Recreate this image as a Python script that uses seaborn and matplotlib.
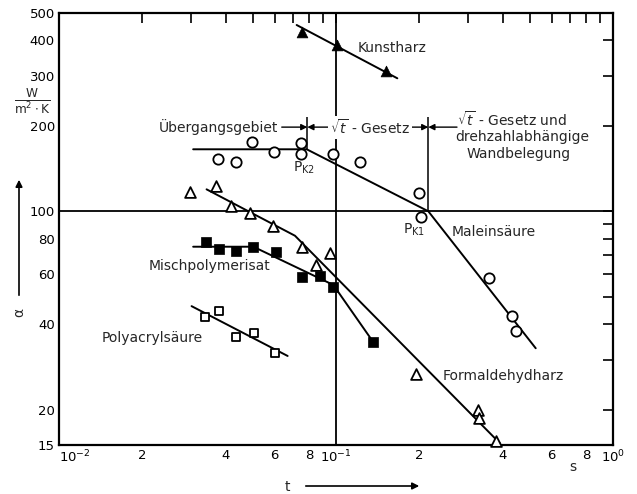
import matplotlib
matplotlib.use("Agg")
import matplotlib.pyplot as plt
import seaborn as sns
import numpy as np
import pandas as pd
from matplotlib.ticker import FixedLocator, NullFormatter

# ---------------- data ----------------
male_t = [0.0376, 0.0434, 0.0499, 0.0597, 0.0746, 0.0746, 0.0973, 0.1221, 0.200, 0.2022, 0.3567, 0.4307, 0.4454]
male_a = [152.4, 149.5, 175.8, 162.0, 174.4, 158.7, 158.7, 149.5, 116.3, 95.6, 58.0, 42.8, 37.8]
male_line_t = [0.0305, 0.0784, 0.2154, 0.526]
male_line_a = [165.4, 165.4, 100.0, 32.9]

form_t = [0.0297, 0.0368, 0.0419, 0.0490, 0.0594, 0.0752, 0.0954, 0.0845, 0.1945, 0.3248, 0.3275, 0.378]
form_a = [116.7, 122.4, 104.2, 98.8, 88.9, 74.8, 71.1, 64.5, 26.8, 19.9, 18.6, 15.5]
form_line_t = [0.0341, 0.0711, 0.3909]
form_line_a = [119.5, 82.0, 15.2]

misch_t = [0.0339, 0.0379, 0.0434, 0.0503, 0.0606, 0.0754, 0.0873, 0.0975, 0.1358]
misch_a = [78.1, 73.4, 72.4, 75.0, 72.0, 58.6, 59.3, 54.2, 34.7]
misch_line_t = [0.0305, 0.0503, 0.0978, 0.1346]
misch_line_a = [75.0, 75.0, 55.0, 35.2]

poly_t = [0.0337, 0.0379, 0.0436, 0.0506, 0.0602]
poly_a = [42.3, 44.6, 36.1, 37.2, 31.6]
poly_line_t = [0.0301, 0.0669]
poly_line_a = [46.3, 30.9]

kunst_t = [0.0752, 0.1006, 0.1515]
kunst_a = [429.6, 385.6, 313.0]
kunst_line_t = [0.0721, 0.1665]
kunst_line_a = [453.6, 294.3]

# boundaries of regimes
t_pk2 = 0.0788
t_pk1 = 0.2154

x_major = [0.01, 0.02, 0.04, 0.06, 0.08, 0.1, 0.2, 0.4, 0.6, 0.8, 1.0]
x_major_labels = ["$10^{-2}$", "2", "4", "6", "8", "$10^{-1}$", "2", "4", "6", "8", "$10^{0}$"]
x_minor = [0.03, 0.05, 0.07, 0.09, 0.3, 0.5, 0.7, 0.9]
y_major = [15, 20, 40, 60, 80, 100, 200, 300, 400, 500]
y_major_labels = ["15", "20", "40", "60", "80", "100", "200", "300", "400", "500"]
y_minor = [30, 50, 70, 90]

# ---------------- figure ----------------
sns.set_theme(style="white")
plt.rcParams["font.family"] = ["DejaVu Sans"]
plt.rcParams["mathtext.fontset"] = "dejavusans"

W, H = 637, 494
fig = plt.figure(figsize=(W / 100, H / 100), dpi=100)
fig.patch.set_facecolor("white")
ax = fig.add_axes([59 / W, 1 - 445 / H, (613 - 59) / W, (445 - 13) / H])
ax.set_facecolor("white")
ax.set_xscale("log")
ax.set_yscale("log")
ax.set_xlim(0.01, 1.0)
ax.set_ylim(15, 500)

lw = 1.4
# reference lines
ax.axhline(100, color="black", lw=1.3, zorder=1)
ax.axvline(0.1, color="black", lw=1.3, zorder=1)
ax.vlines([t_pk2], 165.4, 215, color="black", lw=1.1, zorder=1)
ax.vlines([t_pk1], 100, 215, color="black", lw=1.1, zorder=1)

# fitted lines
for lt, la in [(male_line_t, male_line_a), (form_line_t, form_line_a),
               (misch_line_t, misch_line_a), (poly_line_t, poly_line_a),
               (kunst_line_t, kunst_line_a)]:
    sns.lineplot(x=lt, y=la, sort=False, estimator=None, color="black", lw=lw, ax=ax, zorder=2)

# markers
sns.scatterplot(x=male_t, y=male_a, marker="o", s=55, color="white", edgecolor="black", linewidth=1.3, ax=ax, zorder=3)
sns.scatterplot(x=form_t, y=form_a, marker="^", s=60, color="white", edgecolor="black", linewidth=1.3, ax=ax, zorder=3, clip_on=False)
sns.scatterplot(x=misch_t, y=misch_a, marker="s", s=50, color="black", edgecolor="black", linewidth=0.5, ax=ax, zorder=3)
sns.scatterplot(x=poly_t, y=poly_a, marker="s", s=38, color="white", edgecolor="black", linewidth=1.3, ax=ax, zorder=3)
sns.scatterplot(x=kunst_t, y=kunst_a, marker="^", s=60, color="black", edgecolor="black", linewidth=0.5, ax=ax, zorder=3, clip_on=False)

# ticks
ax.xaxis.set_major_locator(FixedLocator(x_major))
ax.set_xticklabels(x_major_labels)
ax.xaxis.set_minor_locator(FixedLocator(x_minor))
ax.xaxis.set_minor_formatter(NullFormatter())
ax.yaxis.set_major_locator(FixedLocator(y_major))
ax.set_yticklabels(y_major_labels)
ax.yaxis.set_minor_locator(FixedLocator(y_minor))
ax.yaxis.set_minor_formatter(NullFormatter())
ax.tick_params(which="both", direction="in", length=7.5, width=1.2, top=True, right=True,
               labelsize=9.5, colors="black", pad=3)
ax.get_xticklabels()[0].set_horizontalalignment("left")
for sp in ax.spines.values():
    sp.set_color("black")
    sp.set_linewidth(1.6)

fs = 10
# annotations
ax.text(0.12, 376, "Kunstharz", fontsize=fs, ha="left", va="center")
ax.text(0.0617, 198, "Übergangsgebiet", fontsize=fs, ha="right", va="center")
ax.text(0.1327, 198, r"$\sqrt{t}$ - Gesetz", fontsize=fs, ha="center", va="center",
        bbox=dict(facecolor="white", edgecolor="none", pad=1.5), zorder=4)
ax.text(0.2734, 211, r"$\sqrt{t}$ - Gesetz und", fontsize=fs, ha="left", va="center")
ax.text(0.27, 182.7, "drehzahlabhängige", fontsize=fs, ha="left", va="center")
ax.text(0.2971, 159, "Wandbelegung", fontsize=fs, ha="left", va="center")
ax.text(0.0699, 142, r"P$_{\mathrm{K2}}$", fontsize=fs, ha="left", va="center")
ax.text(0.1745, 85.8, r"P$_{\mathrm{K1}}$", fontsize=fs, ha="left", va="center")
ax.text(0.2623, 84.5, "Maleinsäure", fontsize=fs, ha="left", va="center")
ax.text(0.0211, 64.1, "Mischpolymerisat", fontsize=fs, ha="left", va="center")
ax.text(0.0143, 35.7, "Polyacrylsäure", fontsize=fs, ha="left", va="center")
ax.text(0.2434, 26.3, "Formaldehydharz", fontsize=fs, ha="left", va="center")

arrow_kw = dict(arrowstyle="-|>", color="black", lw=1.0, mutation_scale=9, shrinkA=0, shrinkB=0)
for x0, x1 in [(0.0637, t_pk2), (0.0951, t_pk2), (0.182, t_pk1), (0.2734, t_pk1)]:
    ax.annotate("", xy=(x1, 198), xytext=(x0, 198), arrowprops=arrow_kw)

# units / axis labels
fig.text(573 / W, 1 - 467 / H, "s", fontsize=fs, ha="center", va="center")
fig.text(32 / W, 1 - 101 / H, r"$\frac{\mathrm{W}}{\mathrm{m^2 \cdot K}}$", fontsize=12.5, ha="center", va="center")
fig.text(19 / W, 1 - 312 / H, "α", fontsize=fs, ha="center", va="center", rotation=90)
fig.patches.append(matplotlib.patches.FancyArrowPatch(
    (19 / W, 1 - 298 / H), (19 / W, 1 - 177 / H), transform=fig.transFigure,
    arrowstyle="-|>", mutation_scale=10, color="black", lw=1.2))
fig.text(287 / W, 1 - 487 / H, "t", fontsize=fs, ha="center", va="center")
fig.patches.append(matplotlib.patches.FancyArrowPatch(
    (303 / W, 1 - 486 / H), (422 / W, 1 - 486 / H), transform=fig.transFigure,
    arrowstyle="-|>", mutation_scale=10, color="black", lw=1.2))

fig.savefig("out.png", dpi=100, facecolor="white")
